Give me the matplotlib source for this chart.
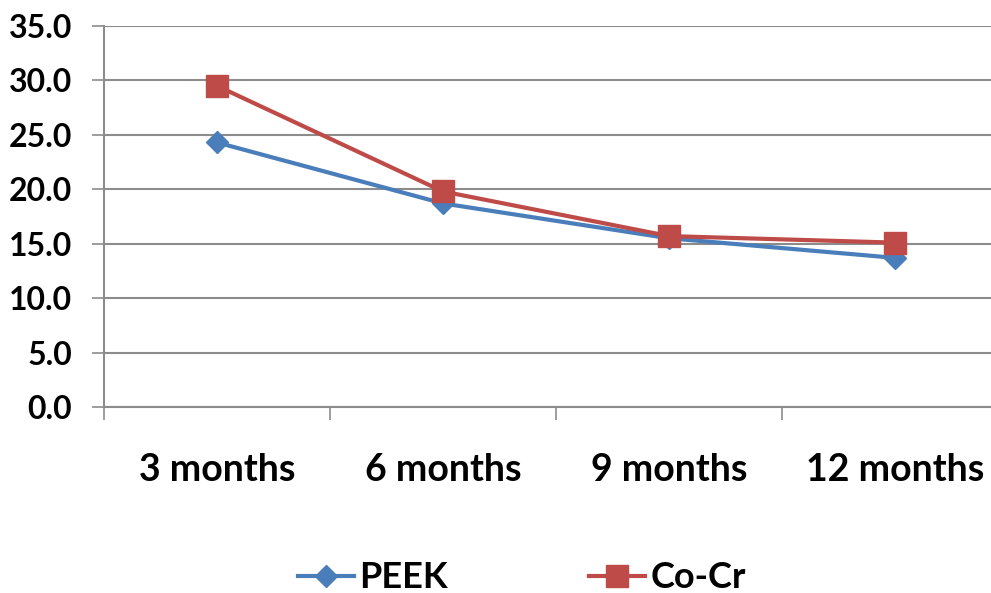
import numpy as np
import matplotlib.pyplot as plt

categories = ['3 months', '6 months', '9 months', '12 months']
peek = [24.3, 18.7, 15.5, 13.7]
cocr = [29.5, 19.8, 15.7, 15.1]

plt.rcParams['font.family'] = ['Lato', 'DejaVu Sans']

fig = plt.figure(figsize=(9.91, 5.93), dpi=100)
ax = fig.add_axes([104 / 991, 186 / 593, 904 / 991, 381 / 593])

x = np.arange(len(categories))
ax.plot(x, peek, color='#4A7EBB', lw=3, marker='D', ms=11, label='PEEK', zorder=3)
ax.plot(x, cocr, color='#BE4B48', lw=3, marker='s', ms=16, label='Co-Cr', zorder=4)

ax.set_xlim(-0.5, 3.5)
ax.set_ylim(0, 35)
ax.set_yticks(np.arange(0, 36, 5))
ax.set_yticklabels(['%.1f' % v for v in np.arange(0, 36, 5)], fontsize=23, fontweight='bold')
ax.yaxis.grid(True, color='#8c8c8c', lw=1.5)
ax.set_axisbelow(True)

ax.set_xticks(x)
ax.set_xticklabels(categories, fontsize=27, fontweight='bold')
ax.set_xticks(np.arange(-0.5, 4, 1), minor=True)
ax.tick_params(axis='x', which='major', length=0, pad=33)
ax.tick_params(axis='x', which='minor', length=9, color='#8c8c8c', width=1.2)
ax.tick_params(axis='y', length=9, color='#8c8c8c', width=1.2, pad=14)

for s in ['top', 'right']:
    ax.spines[s].set_visible(False)
for s in ['left', 'bottom']:
    ax.spines[s].set_color('#8c8c8c')
    ax.spines[s].set_linewidth(1.5)

fig.legend(loc='center', bbox_to_anchor=(522 / 991, 1 - 578 / 593), ncol=2,
           frameon=False, prop={'size': 26, 'weight': 'bold'},
           handlelength=1.55, handletextpad=0.15, columnspacing=3.9)

fig.savefig('out.png', dpi=100)
